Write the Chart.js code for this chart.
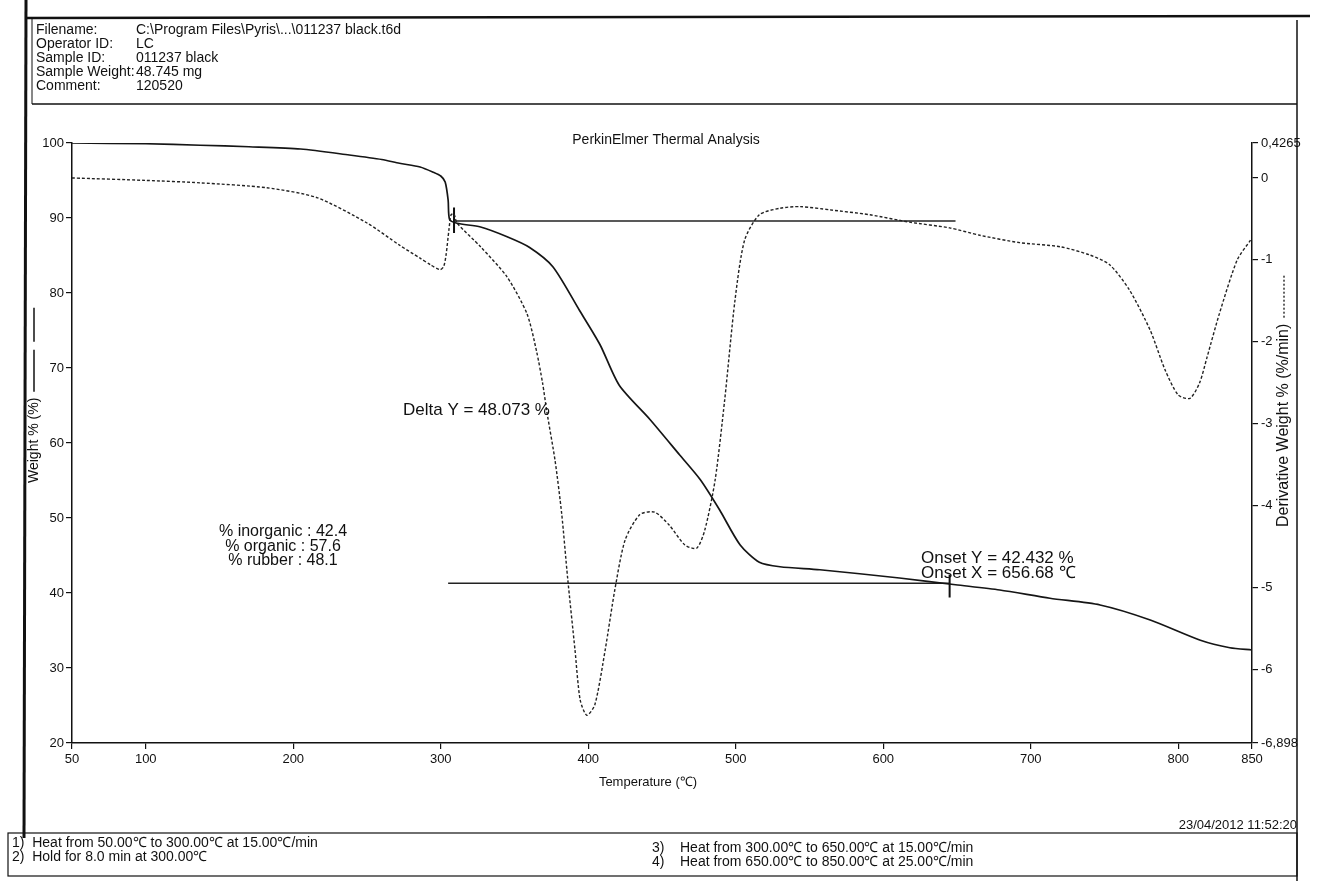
<!DOCTYPE html>
<html>
<head>
<meta charset="utf-8">
<title>PerkinElmer Thermal Analysis</title>
<script src="https://cdn.jsdelivr.net/npm/chart.js@4.4.1/dist/chart.umd.min.js"></script>
<style>
  html, body { margin: 0; padding: 0; background: #fff; }
  canvas { display: block; }
</style>
</head>
<body>
<canvas id="tgaChart" width="1319" height="881"></canvas>
<script>
// Weight % curve (solid line, left axis)
const tgaTemp = [50, 100, 137, 170, 205, 238, 260, 272, 286, 295, 300, 303, 305, 306, 311, 327, 345, 360, 376, 394,
    408, 421, 442, 462, 476, 489, 503, 516, 530, 557, 611, 649, 679, 713, 747, 781, 815, 835, 850];
const tgaWeight = [100, 99.9, 99.7, 99.5, 99.2, 98.4, 97.8, 97.3, 96.8, 96.1, 95.6, 94.8, 92.4, 89.8, 89.3, 88.8, 87.5, 86.1, 83.5, 77.7,
    73.1, 67.7, 63.1, 58.4, 55.1, 51.1, 46.4, 44.1, 43.5, 43.1, 42.0, 41.1, 40.4, 39.3, 38.4, 36.4, 33.7, 32.7, 32.4];

// Derivative weight curve (dashed line, right axis)
const dtgTemp = [50, 100, 137, 182, 216, 250, 272, 286, 293, 299.5, 302, 303.6, 305.5, 307, 309, 311, 327, 345, 358.5, 365,
    369, 372, 377.5, 382, 386, 391, 394.5, 399, 404.5, 411.5, 418, 425, 435, 445, 455, 465.5, 473.5, 479, 486, 492.5,
    499.5, 506, 516, 530, 543.5, 564, 591, 618, 645, 665.5, 692.5, 720, 740, 753.5, 767, 781, 791, 800, 808, 814.5,
    819.5, 828, 840, 849];
const dtgDeriv = [0.0, -0.03, -0.06, -0.12, -0.24, -0.55, -0.82, -0.98, -1.06, -1.12, -1.08, -0.94, -0.64, -0.45, -0.44, -0.55, -0.84, -1.21, -1.66, -2.12,
    -2.5, -2.86, -3.45, -4.1, -4.88, -5.76, -6.37, -6.56, -6.43, -5.76, -5.03, -4.42, -4.11, -4.08, -4.24, -4.48, -4.52, -4.30, -3.69, -2.71,
    -1.49, -0.76, -0.45, -0.37, -0.35, -0.39, -0.45, -0.54, -0.61, -0.70, -0.79, -0.84, -0.94, -1.06, -1.37, -1.86, -2.34, -2.65, -2.69, -2.50,
    -2.19, -1.65, -1.00, -0.76];

// Tick labels
const tempTicks = [50, 100, 200, 300, 400, 500, 600, 700, 800, 850];
const derivTicks = [0.4265, 0, -1, -2, -3, -4, -5, -6, -6.898];

// Delta Y / onset cursors
const deltaLineTemp = [309, 649];
const deltaLineWeight = [89.6, 89.6];
const deltaMarkTemp = [309, 309];
const deltaMarkWeight = [91.4, 88.0];
const onsetLineTemp = [305, 645];
const onsetLineWeight = [41.3, 41.3];
const onsetMarkTemp = [645, 645];
const onsetMarkWeight = [42.4, 39.4];

// Header / footer text
const headerLabels = ['Filename:', 'Operator ID:', 'Sample ID:', 'Sample Weight:', 'Comment:'];
const headerValues = ['C:\\Program Files\\Pyris\\...\\011237 black.t6d', 'LC', '011237 black', '48.745 mg', '120520'];
const methodSteps = ['1)  Heat from 50.00\u2103 to 300.00\u2103 at 15.00\u2103/min',
    '2)  Hold for 8.0 min at 300.00\u2103',
    '3)    Heat from 300.00\u2103 to 650.00\u2103 at 15.00\u2103/min',
    '4)    Heat from 650.00\u2103 to 850.00\u2103 at 25.00\u2103/min'];

const FONT = '"Liberation Sans", Arial, sans-serif';
Chart.defaults.font.family = FONT;
Chart.defaults.color = '#111';

function pts(xs, ys) {
    return xs.map((x, i) => ({ x: x, y: ys[i] }));
}

function txt(ctx, s, x, y, size, align) {
    ctx.font = size + 'px ' + FONT;
    ctx.textAlign = align || 'left';
    ctx.textBaseline = 'middle';
    ctx.fillText(s, x, y);
}

function seg(ctx, x1, y1, x2, y2, w) {
    ctx.lineWidth = w;
    ctx.beginPath();
    ctx.moveTo(x1, y1);
    ctx.lineTo(x2, y2);
    ctx.stroke();
}

// page frame, header, footer and labels drawn around the plot
const pageDecor = {
    id: 'pageDecor',
    afterDraw(chart) {
        const ctx = chart.ctx;
        ctx.save();
        ctx.fillStyle = '#111';
        ctx.strokeStyle = '#111';

        // page borders
        seg(ctx, 26, 0, 24, 838, 3);
        seg(ctx, 1297, 20, 1297, 881, 1.5);

        // header box
        seg(ctx, 26, 18, 1310, 16, 2.5);
        seg(ctx, 32, 18, 32, 104, 1);
        seg(ctx, 32, 104, 1297, 104, 1.5);
        headerLabels.forEach((s, i) => txt(ctx, s, 36, 30 + i * 14, 14));
        headerValues.forEach((s, i) => txt(ctx, s, 136, 30 + i * 14, 14));

        // title
        txt(ctx, 'PerkinElmer Thermal Analysis', 666, 140, 14, 'center');

        // axis titles with line-style keys
        ctx.save();
        ctx.translate(34, 483);
        ctx.rotate(-Math.PI / 2);
        ctx.font = '14px ' + FONT;
        ctx.textAlign = 'left';
        ctx.textBaseline = 'middle';
        ctx.fillText('Weight % (%)', 0, 0);
        let w = ctx.measureText('Weight % (%)').width;
        seg(ctx, w + 6, 0, w + 48, 0, 1.5);
        seg(ctx, w + 56, 0, w + 90, 0, 1.5);
        ctx.restore();

        ctx.save();
        ctx.translate(1284, 527);
        ctx.rotate(-Math.PI / 2);
        ctx.font = '16px ' + FONT;
        ctx.textAlign = 'left';
        ctx.textBaseline = 'middle';
        ctx.fillText('Derivative Weight % (%/min)', 0, 0);
        w = ctx.measureText('Derivative Weight % (%/min)').width;
        ctx.setLineDash([2, 2]);
        seg(ctx, w + 6, 0, w + 50, 0, 1.3);
        ctx.setLineDash([]);
        ctx.restore();

        txt(ctx, 'Temperature (\u2103)', 648, 782, 13, 'center');

        // annotations
        txt(ctx, 'Delta Y = 48.073 %', 403, 410, 17);
        txt(ctx, '% inorganic : 42.4', 283, 532, 16, 'center');
        txt(ctx, '% organic : 57.6', 283, 547, 16, 'center');
        txt(ctx, '% rubber : 48.1', 283, 561, 16, 'center');
        txt(ctx, 'Onset Y = 42.432 %', 921, 558, 17);
        txt(ctx, 'Onset X = 656.68 \u2103', 921, 573, 17);

        // footer
        txt(ctx, '23/04/2012 11:52:20', 1297, 825, 13, 'right');
        ctx.lineWidth = 1.2;
        ctx.strokeRect(8, 833, 1289, 43);
        txt(ctx, methodSteps[0], 12, 843, 14);
        txt(ctx, methodSteps[1], 12, 857, 14);
        txt(ctx, methodSteps[2], 652, 848, 14);
        txt(ctx, methodSteps[3], 652, 862, 14);

        ctx.restore();
    }
};

const axisGrid = { drawOnChartArea: false, drawTicks: true, tickLength: 6, color: '#111', lineWidth: 1.2 };
const axisBorder = { display: true, color: '#111', width: 1.5 };

new Chart(document.getElementById('tgaChart').getContext('2d'), {
    type: 'line',
    data: {
        datasets: [
            { label: 'Weight %', data: pts(tgaTemp, tgaWeight), yAxisID: 'y',
              borderColor: '#151515', borderWidth: 1.7, pointRadius: 0, tension: 0.25 },
            { label: 'Derivative Weight %', data: pts(dtgTemp, dtgDeriv), yAxisID: 'y2',
              borderColor: '#222', borderWidth: 1.4, borderDash: [3, 2], pointRadius: 0, tension: 0.25 },
            { label: 'Delta Y', data: pts(deltaLineTemp, deltaLineWeight), yAxisID: 'y',
              borderColor: '#222', borderWidth: 1.3, pointRadius: 0 },
            { label: 'Delta mark', data: pts(deltaMarkTemp, deltaMarkWeight), yAxisID: 'y',
              borderColor: '#111', borderWidth: 2, pointRadius: 0 },
            { label: 'Onset', data: pts(onsetLineTemp, onsetLineWeight), yAxisID: 'y',
              borderColor: '#222', borderWidth: 1.5, pointRadius: 0 },
            { label: 'Onset mark', data: pts(onsetMarkTemp, onsetMarkWeight), yAxisID: 'y',
              borderColor: '#111', borderWidth: 2, pointRadius: 0 }
        ]
    },
    options: {
        responsive: false,
        animation: false,
        layout: { padding: { top: 143, left: 0, right: 0, bottom: 0 } },
        plugins: {
            legend: { display: false },
            tooltip: { enabled: false }
        },
        scales: {
            x: {
                type: 'linear', min: 50, max: 850,
                afterBuildTicks: s => { s.ticks = tempTicks.map(v => ({ value: v })); },
                afterFit: s => { s.height = 138; },
                grid: axisGrid, border: axisBorder,
                ticks: { font: { size: 13 }, color: '#111', maxRotation: 0, autoSkip: false, padding: 3 }
            },
            y: {
                position: 'left', min: 20, max: 100,
                afterFit: s => { s.width = 72; },
                grid: axisGrid, border: axisBorder,
                ticks: { stepSize: 10, font: { size: 13 }, color: '#111', padding: 2 }
            },
            y2: {
                position: 'right', min: -6.898, max: 0.4265,
                afterBuildTicks: s => { s.ticks = derivTicks.map(v => ({ value: v })); },
                afterFit: s => { s.width = 67; },
                grid: axisGrid, border: axisBorder,
                ticks: { font: { size: 13 }, color: '#111', padding: 3,
                         callback: v => String(v).replace('.', ',') }
            }
        }
    },
    plugins: [pageDecor]
});
</script>
</body>
</html>
